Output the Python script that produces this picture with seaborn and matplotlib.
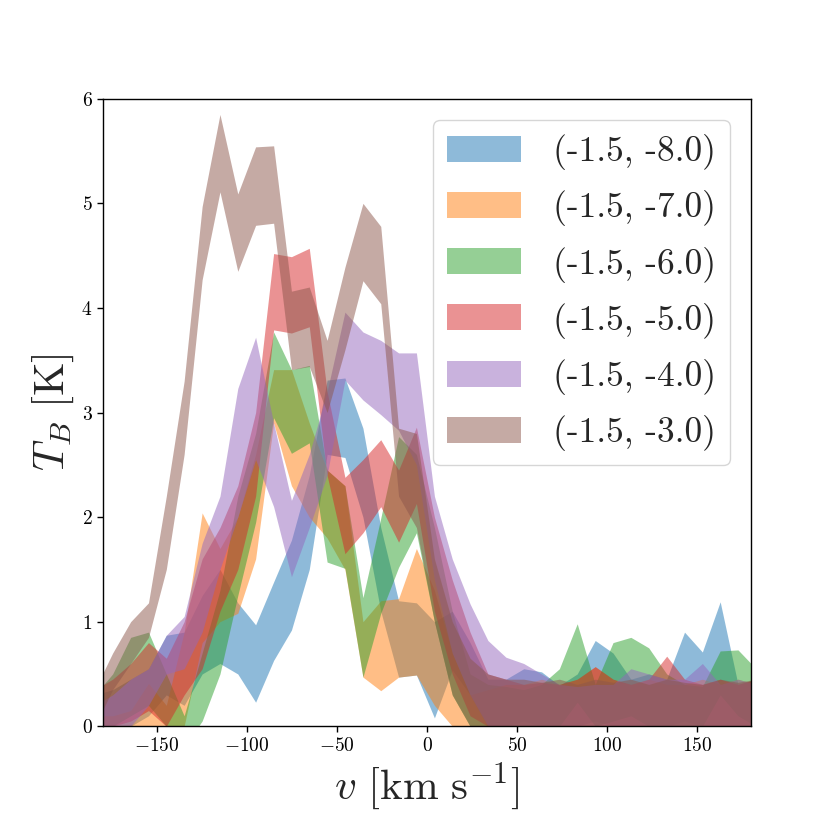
import numpy as np
import matplotlib
matplotlib.use("Agg")
import matplotlib.pyplot as plt
import seaborn as sns

# velocity channels (km/s)
velocity = [-184.5, -174.6, -164.6, -154.7, -144.8, -134.9, -124.9, -115.0,
            -105.1, -95.2, -85.2, -75.3, -65.4, -55.5, -45.6, -35.6, -25.7,
            -15.8, -5.9, 4.1, 14.0, 23.9, 33.8, 43.8, 53.7, 63.6, 73.5, 83.4,
            93.4, 103.3, 113.2, 123.1, 133.1, 143.0, 152.9, 162.8, 172.7, 182.7]

labels = ["(-1.5, -8.0)", "(-1.5, -7.0)", "(-1.5, -6.0)",
          "(-1.5, -5.0)", "(-1.5, -4.0)", "(-1.5, -3.0)"]

# lower / upper envelope of T_B for each pointing
lo_m8 = [0.0, 0.0, 0.0, 0.1, 0.3, 0.2, 0.5, 0.6, 0.5, 0.23, 0.63, 0.92, 1.5,
         2.6, 2.57, 2.0, 1.1, 0.47, 0.49, 0.08, 0.54, 0.3, 0.0, 0.0, 0.05,
         0.0, 0.0, 0.0, 0.05, 0.0, 0.0, 0.0, 0.0, 0.05, 0.0, 0.0, 0.0, 0.0]
hi_m8 = [0.3, 0.35, 0.45, 0.55, 0.87, 0.9, 1.25, 1.5, 1.18, 0.97, 1.38, 1.78,
         2.4, 3.31, 3.33, 2.85, 1.9, 1.2, 1.18, 1.0, 1.1, 0.8, 0.45, 0.45,
         0.55, 0.52, 0.39, 0.5, 0.82, 0.7, 0.45, 0.5, 0.45, 0.9, 0.71, 1.19,
         0.4, 0.45]

lo_m7 = [0.0, 0.0, 0.0, 0.0, 0.0, 0.0, 0.8, 1.0, 1.08, 1.6, 2.9, 2.3, 2.0,
         1.8, 1.5, 0.47, 0.34, 0.47, 0.49, 0.2, 0.0, 0.0, 0.0, 0.0, 0.0,
         0.0, 0.0, 0.0, 0.0, 0.0, 0.0, 0.0, 0.0, 0.0, 0.0, 0.0, 0.0, 0.0]
hi_m7 = [0.1, 0.1, 0.15, 0.41, 0.2, 0.9, 2.04, 1.7, 2.0, 2.6, 3.41, 3.41,
         2.9, 2.45, 2.3, 1.0, 1.2, 1.22, 1.7, 1.3, 0.7, 0.3, 0.35, 0.4, 0.4,
         0.45, 0.4, 0.45, 0.57, 0.45, 0.4, 0.45, 0.4, 0.4, 0.45, 0.4, 0.45,
         0.4]

lo_m6 = [0.0, 0.0, 0.1, 0.2, 0.0, -0.2, 0.05, 0.5, 1.25, 1.95, 2.95, 2.61,
         2.71, 1.57, 1.51, 0.47, 1.08, 1.52, 1.85, 1.0, 0.3, 0.0, 0.0, 0.0,
         0.0, 0.0, 0.0, 0.23, 0.0, 0.05, 0.1, 0.0, 0.0, 0.0, 0.0, 0.3, 0.1,
         0.0]
hi_m6 = [0.3, 0.5, 0.85, 0.9, 0.5, 0.1, 0.7, 1.3, 2.2, 2.8, 3.77, 3.41,
         3.45, 2.45, 2.3, 1.23, 1.99, 2.77, 2.6, 1.9, 1.1, 0.5, 0.4, 0.38,
         0.35, 0.4, 0.55, 0.98, 0.4, 0.8, 0.85, 0.75, 0.5, 0.4, 0.38, 0.72,
         0.73, 0.55]

lo_m5 = [0.0, 0.0, 0.05, 0.15, 0.0, 0.3, 0.55, 1.1, 1.5, 2.2, 3.79, 3.76,
         3.82, 2.4, 1.65, 1.85, 2.1, 1.76, 2.13, 1.1, 0.5, 0.1, 0.0, 0.0,
         0.0, 0.0, 0.0, 0.0, 0.0, 0.0, 0.0, 0.0, 0.0, 0.0, 0.0, 0.0, 0.0, 0.0]
hi_m5 = [0.35, 0.45, 0.6, 0.8, 0.65, 1.0, 1.6, 1.9, 2.3, 3.0, 4.52, 4.49,
         4.57, 3.2, 2.38, 2.55, 2.74, 2.45, 2.86, 2.0, 1.4, 0.9, 0.5, 0.45,
         0.4, 0.42, 0.4, 0.45, 0.57, 0.45, 0.4, 0.45, 0.67, 0.45, 0.4, 0.45,
         0.4, 0.45]

lo_m4 = [0.0, 0.0, 0.0, 0.2, 0.5, 0.55, 0.9, 1.5, 2.0, 2.55, 2.1, 1.43, 1.9,
         2.4, 3.31, 3.12, 2.98, 2.83, 2.5, 1.4, 0.7, 0.3, 0.0, 0.0, 0.0, 0.0,
         0.0, 0.0, 0.0, 0.0, 0.0, 0.0, 0.0, 0.0, 0.0, 0.0, 0.0, 0.0]
hi_m4 = [0.2, 0.3, 0.45, 0.55, 0.87, 1.05, 1.75, 2.2, 3.23, 3.72, 2.9, 2.16,
         2.6, 3.2, 3.96, 3.77, 3.69, 3.57, 3.57, 2.2, 1.6, 1.17, 0.82, 0.66,
         0.6, 0.5, 0.4, 0.38, 0.4, 0.4, 0.55, 0.5, 0.45, 0.45, 0.6, 0.4,
         0.45, 0.4]

lo_m3 = [0.0, 0.35, 0.6, 0.85, 1.5, 2.6, 4.27, 5.11, 4.35, 4.79, 4.81, 3.41,
         3.44, 3.0, 3.6, 4.26, 4.04, 2.2, 1.9, 1.0, 0.3, 0.0, 0.0, 0.0, 0.0,
         0.0, 0.0, 0.0, 0.0, 0.0, 0.0, 0.0, 0.0, 0.0, 0.0, 0.0, 0.0, 0.0]
hi_m3 = [0.35, 0.7, 1.0, 1.18, 2.2, 3.3, 4.97, 5.85, 5.09, 5.54, 5.55, 4.16,
         4.2, 3.69, 4.39, 5.0, 4.78, 2.85, 2.8, 1.6, 1.0, 0.65, 0.5, 0.45,
         0.45, 0.42, 0.45, 0.4, 0.45, 0.42, 0.45, 0.4, 0.45, 0.42, 0.4, 0.45,
         0.42, 0.45]

lows = [lo_m8, lo_m7, lo_m6, lo_m5, lo_m4, lo_m3]
highs = [hi_m8, hi_m7, hi_m6, hi_m5, hi_m4, hi_m3]

sns.set_style("ticks", {"axes.edgecolor": "black",
                        "xtick.color": "black", "ytick.color": "black",
                        "xtick.direction": "out", "ytick.direction": "out"})
plt.rcParams["font.family"] = ["cmr10", "DejaVu Serif"]
plt.rcParams["mathtext.fontset"] = "cm"
plt.rcParams["axes.formatter.use_mathtext"] = True
plt.rcParams["axes.unicode_minus"] = True

palette = sns.color_palette("tab10", 6)

fig, ax = plt.subplots(figsize=(8.3, 8.3), dpi=100)
fig.subplots_adjust(left=0.124, right=0.905, bottom=0.125, top=0.881)

for lo, hi, col, lab in zip(lows, highs, palette, labels):
    ax.fill_between(velocity, lo, hi, color=col, alpha=0.5, linewidth=0,
                    label=lab)

ax.set_xlim(-180, 180)
ax.set_ylim(0, 6)
ax.set_xticks([-150, -100, -50, 0, 50, 100, 150])
ax.set_yticks([0, 1, 2, 3, 4, 5, 6])
ax.tick_params(labelsize=14, length=4, width=1)
for sp in ax.spines.values():
    sp.set_linewidth(1)

ax.set_xlabel(r"$v\ [\mathrm{km\ s^{-1}}]$", fontsize=31)
ax.set_ylabel(r"$T_B\ [\mathrm{K}]$", fontsize=31)

ax.legend(loc="upper right", fontsize=25.5, handlelength=2.1,
          handleheight=0.75, handletextpad=0.88, labelspacing=0.57,
          borderaxespad=0.6, framealpha=0.8)

plt.savefig("out.png", dpi=100)
plt.close()
